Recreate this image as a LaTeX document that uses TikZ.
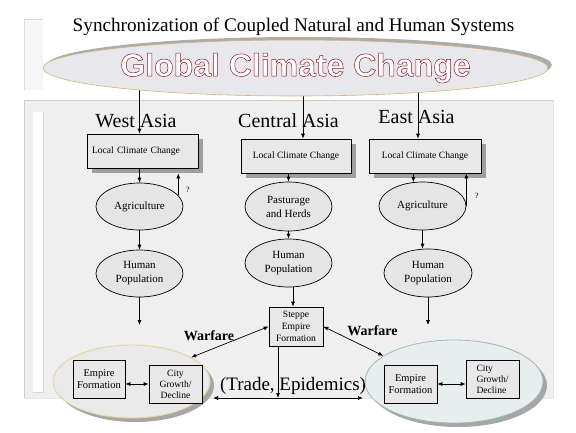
\documentclass[tikz,border=0pt]{standalone}
\usepackage{fontspec}
\setmainfont{Liberation Serif}
\newfontfamily\gccfont{Liberation Sans}
\usetikzlibrary{shapes.geometric,shadows,arrows.meta,backgrounds}
\definecolor{panelgray}{HTML}{EFEFEF}
\definecolor{gccfill}{HTML}{E8E8EC}
\definecolor{gccrim}{HTML}{D9B26F}
\definecolor{westrim}{HTML}{E3D590}
\definecolor{eastrim}{HTML}{9DBAB3}
\definecolor{eastfill}{HTML}{E8EEEE}
\newcommand\outlinetext[1]{\special{pdf:literal direct 2 Tr 0.5 w 0.55 0.1 0.15 RG}#1\special{pdf:literal direct 0 Tr}}
\tikzset{
  >={Latex[length=5pt,width=4pt]},
  syncarrow/.style={->,line width=0.7pt},
  syncboth/.style={<->,line width=0.7pt},
  climbox/.style={draw=black,fill=gray!18,line width=0.7pt,minimum height=34pt,
    font=\fontsize{9.6}{11}\selectfont,
    drop shadow={shadow xshift=5pt,shadow yshift=-5pt,fill=gray!75,opacity=1}},
  climoval/.style={ellipse,draw=black,fill=gray!20,line width=0.7pt,inner sep=0pt,
    minimum width=87pt,minimum height=47pt,align=center,font=\fontsize{11}{14}\selectfont},
  empbox/.style={draw=black,fill=gray!18,line width=0.7pt,minimum width=53pt,
    minimum height=38pt,inner sep=3pt,font=\fontsize{10.5}{12.5}\selectfont},
  regionlabel/.style={anchor=base,font=\fontsize{20}{22}\selectfont},
  warlabel/.style={anchor=base,font=\fontsize{14}{16}\selectfont\bfseries},
  qmark/.style={font=\fontsize{8}{9}\selectfont}
}

\begin{document}
\begin{tikzpicture}[x=1pt,y=-1pt]
  \useasboundingbox (0,0) rectangle (576,432);
  \node[anchor=base,font=\fontsize{19.2}{21}\selectfont] (title) at (293.5,31)
    {Synchronization of Coupled Natural and Human Systems};
  \node[ellipse,draw=gccrim,fill=gccfill,line width=0.6pt,minimum width=448pt,minimum height=56pt,
    drop shadow={shadow xshift=4pt,shadow yshift=3pt,fill=gray!65,opacity=1},
    text=white,font=\gccfont\bfseries\fontsize{32}{34}\selectfont] (gcc) at (295.5,68)
    {\outlinetext{Global Climate Change}};

  \node[regionlabel] (westlbl) at (136,127) {West Asia};
  \node[regionlabel] (centlbl) at (288.5,127) {Central Asia};
  \node[regionlabel] (eastlbl) at (416.5,123) {East Asia};

  \node[climbox,minimum width=111pt,text width=101pt,align=left] (lccW) at (142.5,151) {Local Climate Change};
  \node[climbox,minimum width=110pt] (lccC) at (296,156) {Local Climate Change};
  \node[climbox,minimum width=112pt] (lccE) at (425,156) {Local Climate Change};

  \node[climoval] (agW) at (139.5,206.5) {Agriculture};
  \node[climoval] (hpW) at (139.5,273.5) {Human\\Population};
  \node[climoval,minimum height=49pt] (pastC) at (288.5,206.5) {Pasturage\\and Herds};
  \node[climoval,minimum height=48pt] (hpC) at (288.5,263) {Human\\Population};
  \node[climoval,minimum height=48pt] (agE) at (422.5,206) {Agriculture};
  \node[climoval,minimum width=88pt,minimum height=48pt] (hpE) at (428,273) {Human\\Population};
  \node[qmark] (qW) at (188,190) {?};
  \node[qmark] (qE) at (477,196) {?};

  \node[empbox,minimum width=54pt,minimum height=39pt,font=\fontsize{9.6}{11.7}\selectfont,align=center]
    (stp) at (296,326.5) {Steppe\\Empire\\Formation};
  \node[warlabel] (warW) at (209,340) {Warfare};
  \node[warlabel] (warE) at (372.5,335) {Warfare};
  \node[anchor=base,font=\fontsize{19}{21}\selectfont] (trade) at (293,390) {(Trade, Epidemics)};

  \node[ellipse,draw=westrim,fill=gray!17,line width=0.8pt,minimum width=157pt,minimum height=73pt,
    drop shadow={shadow xshift=4pt,shadow yshift=-4pt,fill=gray!70,opacity=1}] (emL) at (131.5,381.5) {};
  \node[ellipse,draw=eastrim,fill=eastfill,line width=0.8pt,minimum width=178pt,minimum height=83pt,
    drop shadow={shadow xshift=4pt,shadow yshift=-4pt,fill=gray!70,opacity=1}] (emR) at (454,381.5) {};
  \node[empbox,minimum width=52pt,align=center] (empW) at (99,379) {Empire\\Formation};
  \node[empbox,align=center,font=\fontsize{9.6}{11}\selectfont] (cityW) at (175.5,384) {City\\Growth/\\Decline};
  \node[empbox,align=center] (empE) at (410.5,384) {Empire\\Formation};
  \node[empbox,align=left,font=\fontsize{9.6}{11}\selectfont] (cityE) at (492.5,379) {City\\Growth/\\Decline};
  \coordinate (endW) at (139.5,325);
  \coordinate (endE) at (428,325);
  \coordinate (tradeL) at (213,398);
  \coordinate (tradeR) at (363,398);

  \begin{scope}[on background layer]
    \fill[gray!7] (24,19) rectangle (43,90);
    \draw[gray!28,line width=0.5pt] (24,90) -- (24,19) -- (43,19);
    \fill[panelgray] (24,100) rectangle (553,398);
    \draw[gray!40,line width=0.6pt] (24,398) -- (24,100) -- (553,100);
    \draw[gray!20,line width=0.5pt] (553,100) -- (553,398) -- (24,398);
    \fill[white] (33,112) rectangle (43,392);
    \draw[gray!30,line width=0.5pt] (43,112) -- (43,392) -- (33,392);
    \draw[syncarrow] (gcc.center -| agW.north) -- (agW.north |- lccW.north);
    \draw[syncarrow] ([xshift=7pt]lccC.north |- gcc.center) -- ([xshift=7pt]lccC.north);
    \draw[syncarrow] ([xshift=-7pt]lccE.north |- gcc.center) -- ([xshift=-7pt]lccE.north);
  \end{scope}

  \draw[syncarrow] (lccW.south -| agW.north) -- (agW.north);
  \draw[syncarrow] (agW.16) -- ([yshift=-5pt]agW.16 |- lccW.south);
  \draw[syncarrow] (agW.south) -- (hpW.north);
  \draw[syncarrow] (hpW.south) -- (endW);
  \draw[syncarrow] (lccC.south -| pastC.north) -- (pastC.north);
  \draw[syncarrow] (pastC.south) -- (hpC.north);
  \draw[syncarrow] ([xshift=4.5pt]hpC.south) -- ([xshift=4.5pt]hpC.south |- stp.north);
  \draw[syncarrow] (lccE.south -| agE.111) -- (agE.111);
  \draw[syncarrow] (agE.east) -- (agE.east |- lccE.south);
  \draw[syncarrow] (agE.south) -- (agE.south |- hpE.north);
  \draw[syncarrow] (hpE.south -| endE) -- (endE);

  \draw[syncboth] (stp.west) -- (emL.22);
  \draw[syncboth] (stp.east) -- (emR.160);
  \draw[syncboth] (tradeL) -- (tradeR);
  \draw[syncarrow] ([xshift=-18pt]stp.south) -- ([xshift=-18pt]stp.south |- tradeL);
  \draw[syncboth] (empW.east |- cityW) -- (cityW.west);
  \draw[syncboth] (empE.east) -- (empE.east -| cityE.west);
\end{tikzpicture}
\end{document}
